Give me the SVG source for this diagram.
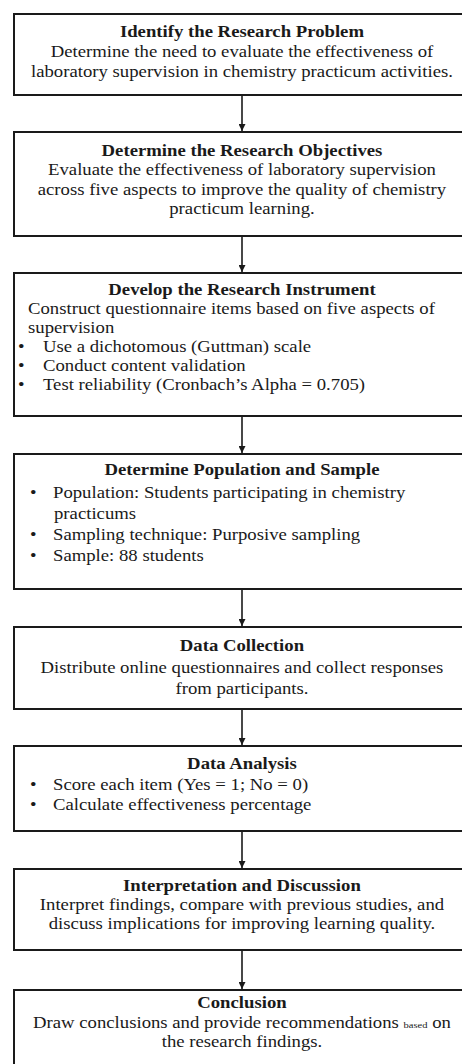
<svg xmlns="http://www.w3.org/2000/svg" width="462" height="1064" viewBox="0 0 462 1064">
<defs>
<style>
.box{fill:#fff;stroke:#1a1a1a;stroke-width:2}
text{font-family:"Liberation Serif","Times New Roman",serif;font-size:16px;fill:#1a1a1a;transform-box:fill-box;transform:scaleX(1.17)}
.c{text-anchor:middle;transform-origin:center}
.l{transform-origin:left}
.b{font-weight:bold}
.con{stroke:#1a1a1a;stroke-width:1.6;fill:none}
</style>
<marker id="ah" viewBox="0 0 10 10" refX="10" refY="5" markerWidth="7" markerHeight="7" markerUnits="userSpaceOnUse" orient="auto">
<path d="M0,0 L10,5 L0,10 z" fill="#1a1a1a"/>
</marker>
</defs>
<rect width="462" height="1064" fill="#fff"/>
<g id="connectors">
<line class="con" x1="242" y1="96" x2="242" y2="131" marker-end="url(#ah)"/>
<line class="con" x1="242" y1="237" x2="242" y2="272" marker-end="url(#ah)"/>
<line class="con" x1="242" y1="417" x2="242" y2="453" marker-end="url(#ah)"/>
<line class="con" x1="242" y1="590" x2="242" y2="626" marker-end="url(#ah)"/>
<line class="con" x1="242" y1="710" x2="242" y2="745" marker-end="url(#ah)"/>
<line class="con" x1="242" y1="832" x2="242" y2="868" marker-end="url(#ah)"/>
<line class="con" x1="242" y1="951" x2="242" y2="989" marker-end="url(#ah)"/>
</g>
<g id="n1">
<rect class="box" x="14" y="14" width="456" height="81"/>
<text class="c b" x="242" y="37">Identify the Research Problem</text>
<text class="c" x="242" y="57">Determine the need to evaluate the effectiveness of</text>
<text class="c" x="242" y="77">laboratory supervision in chemistry practicum activities.</text>
</g>
<g id="n2">
<rect class="box" x="14" y="132" width="456" height="104"/>
<text class="c b" x="242" y="156">Determine the Research Objectives</text>
<text class="c" x="242" y="175">Evaluate the effectiveness of laboratory supervision</text>
<text class="c" x="242" y="195">across five aspects to improve the quality of chemistry</text>
<text class="c" x="242" y="214">practicum learning.</text>
</g>
<g id="n3">
<rect class="box" x="14" y="273" width="456" height="143"/>
<text class="c b" x="242" y="295">Develop the Research Instrument</text>
<text class="l" x="28" y="314">Construct questionnaire items based on five aspects of</text>
<text class="l" x="28" y="333">supervision</text>
<text class="l" x="18" y="352">•</text><text class="l" x="43" y="352">Use a dichotomous (Guttman) scale</text>
<text class="l" x="18" y="371">•</text><text class="l" x="43" y="371">Conduct content validation</text>
<text class="l" x="18" y="390">•</text><text class="l" x="43" y="390">Test reliability (Cronbach’s Alpha = 0.705)</text>
</g>
<g id="n4">
<rect class="box" x="14" y="454" width="456" height="135"/>
<text class="c b" x="242" y="475">Determine Population and Sample</text>
<text class="l" x="30" y="498">•</text><text class="l" x="53" y="498">Population: Students participating in chemistry</text>
<text class="l" x="54" y="519">practicums</text>
<text class="l" x="30" y="540">•</text><text class="l" x="53" y="540">Sampling technique: Purposive sampling</text>
<text class="l" x="30" y="561">•</text><text class="l" x="53" y="561">Sample: 88 students</text>
</g>
<g id="n5">
<rect class="box" x="14" y="627" width="456" height="82"/>
<text class="c b" x="242" y="651">Data Collection</text>
<text class="c" x="242" y="673">Distribute online questionnaires and collect responses</text>
<text class="c" x="242" y="694">from participants.</text>
</g>
<g id="n6">
<rect class="box" x="14" y="746" width="456" height="85"/>
<text class="c b" x="242" y="769">Data Analysis</text>
<text class="l" x="30" y="790">•</text><text class="l" x="53" y="790">Score each item (Yes = 1; No = 0)</text>
<text class="l" x="30" y="810">•</text><text class="l" x="53" y="810">Calculate effectiveness percentage</text>
</g>
<g id="n7">
<rect class="box" x="14" y="869" width="456" height="81"/>
<text class="c b" x="242" y="891">Interpretation and Discussion</text>
<text class="c" x="242" y="910">Interpret findings, compare with previous studies, and</text>
<text class="c" x="242" y="929">discuss implications for improving learning quality.</text>
</g>
<g id="n8">
<rect class="box" x="14" y="990" width="456" height="90"/>
<text class="c b" x="242" y="1008">Conclusion</text>
<text class="c" x="242" y="1028">Draw conclusions and provide recommendations <tspan font-size="9">based</tspan> on</text>
<text class="c" x="242" y="1047">the research findings.</text>
</g>
</svg>
